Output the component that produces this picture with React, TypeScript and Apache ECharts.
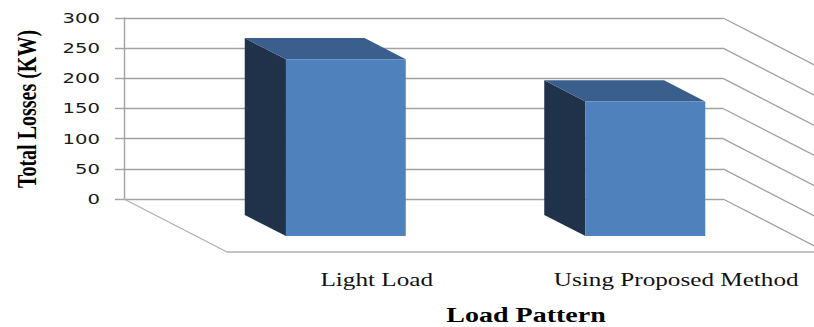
import React, { useEffect, useRef } from "react";
import * as echarts from "echarts";

const categories = ["Light Load", "Using Proposed Method"];
const totalLosses = [293, 223];
const yTicks = [0, 50, 100, 150, 200, 250, 300];
const yAxisTitle = "Total Losses (KW)";
const xAxisTitle = "Load Pattern";

// oblique floor depth in pixels, and where the columns stand inside it (0 = back wall, 1 = front edge)
const DEPTH_X = 103;
const DEPTH_Y = 53;
const COL_FAR = 0.3;
const COL_NEAR = 0.7;
const COL_WIDTH = 0.4;
// horizontal stretch applied to all the wording
const STRETCH = 1.4;

const FRONT = "#4f81bd";
const TOP = "#3b5f8c";
const SIDE = "#1f3249";
const GRID = "#a2a2a2";
const FLOOR = "#b0b0b0";
const SERIF = "'Liberation Serif', 'Times New Roman', serif";

export default function App() {
  const ref = useRef<HTMLDivElement>(null);

  useEffect(() => {
    if (!ref.current) return;
    const chart = echarts.init(ref.current, undefined, { renderer: "svg" });

    const option: any = {
      animation: false,
      backgroundColor: "#ffffff",
      grid: { left: 124, top: 18, width: 599, height: 181, containLabel: false },
      xAxis: {
        type: "category",
        data: categories,
        axisLine: { show: false },
        axisTick: { show: false },
        axisLabel: { show: false },
        splitLine: { show: false },
      },
      yAxis: {
        type: "value",
        min: 0,
        max: 300,
        interval: 50,
        axisLine: { show: true, lineStyle: { color: GRID, width: 1.4 } },
        axisTick: { show: true, length: 9, lineStyle: { color: GRID, width: 1.4 } },
        axisLabel: { show: false },
        splitLine: { show: true, lineStyle: { color: GRID, width: 1.4 } },
      },
      graphic: [
        {
          type: "text",
          x: 26,
          y: 109,
          rotation: Math.PI / 2,
          scaleY: STRETCH,
          style: {
            text: yAxisTitle,
            font: `bold 20px ${SERIF}`,
            fill: "#000000",
            align: "center",
            verticalAlign: "middle",
            textAlign: "center",
            textVerticalAlign: "middle",
          },
        },
        {
          type: "text",
          x: 526,
          y: 315.5,
          scaleX: STRETCH,
          style: {
            text: xAxisTitle,
            font: `bold 20px ${SERIF}`,
            fill: "#000000",
            align: "center",
            verticalAlign: "middle",
            textAlign: "center",
            textVerticalAlign: "middle",
          },
        },
      ],
      series: [
        {
          // side wall gridlines and the floor outline
          type: "custom",
          name: "walls",
          silent: true,
          z: 1,
          data: yTicks.map((v) => [0, v]),
          renderItem: (params: any, api: any) => {
            const cs = params.coordSys;
            const y = api.coord([0, api.value(1)])[1];
            const right = cs.x + cs.width;
            const children: any[] = [
              {
                type: "line",
                shape: { x1: right, y1: y, x2: right + DEPTH_X, y2: y + DEPTH_Y },
                style: { stroke: GRID, lineWidth: 1.3 },
              },
            ];
            if (api.value(1) === 0) {
              children.push(
                {
                  type: "line",
                  shape: { x1: cs.x, y1: y, x2: cs.x + DEPTH_X, y2: y + DEPTH_Y },
                  style: { stroke: FLOOR, lineWidth: 1.3 },
                },
                {
                  type: "line",
                  shape: { x1: cs.x + DEPTH_X, y1: y + DEPTH_Y, x2: right + DEPTH_X, y2: y + DEPTH_Y },
                  style: { stroke: FLOOR, lineWidth: 1.3 },
                }
              );
            }
            return { type: "group", children };
          },
        },
        {
          // value labels beside the back wall
          type: "custom",
          name: "ticks",
          silent: true,
          z: 3,
          data: yTicks.map((v) => [0, v]),
          renderItem: (params: any, api: any) => {
            const cs = params.coordSys;
            const y = api.coord([0, api.value(1)])[1];
            return {
              type: "text",
              x: cs.x - 24,
              y: y,
              scaleX: STRETCH,
              style: {
                text: String(yTicks[params.dataIndex]),
                font: "14px 'DejaVu Sans', Verdana, sans-serif",
                fill: "#1a1a1a",
                align: "right",
                verticalAlign: "middle",
                textAlign: "right",
                textVerticalAlign: "middle",
              },
            };
          },
        },
        {
          // category names along the front edge of the floor
          type: "custom",
          name: "categories",
          silent: true,
          z: 3,
          data: categories.map((_, i) => [i, 0]),
          renderItem: (params: any, api: any) => {
            const p = api.coord([api.value(0), 0]);
            return {
              type: "text",
              x: p[0] + DEPTH_X,
              y: p[1] + DEPTH_Y + 28,
              scaleX: STRETCH,
              style: {
                text: categories[params.dataIndex],
                font: `18px ${SERIF}`,
                fill: "#111111",
                align: "center",
                verticalAlign: "middle",
                textAlign: "center",
                textVerticalAlign: "middle",
              },
            };
          },
        },
        {
          // 3-D columns: left side, top and front faces
          type: "custom",
          name: "Total Losses",
          z: 2,
          data: totalLosses.map((v, i) => [i, v]),
          renderItem: (params: any, api: any) => {
            const i = api.value(0);
            const v = api.value(1);
            const base = api.coord([i, 0]);
            const top = api.coord([i, v]);
            const bw = api.size([1, 0])[0] * COL_WIDTH;
            const xl = base[0] - bw / 2;
            const xr = base[0] + bw / 2;
            const yb = base[1];
            const yt = top[1];
            const fx = COL_FAR * DEPTH_X;
            const fy = COL_FAR * DEPTH_Y;
            const nx = COL_NEAR * DEPTH_X;
            const ny = COL_NEAR * DEPTH_Y;
            return {
              type: "group",
              children: [
                {
                  type: "polygon",
                  shape: {
                    points: [
                      [xl + fx, yt + fy],
                      [xl + nx, yt + ny],
                      [xl + nx, yb + ny],
                      [xl + fx, yb + fy],
                    ],
                  },
                  style: { fill: SIDE },
                },
                {
                  type: "polygon",
                  shape: {
                    points: [
                      [xl + fx, yt + fy],
                      [xr + fx, yt + fy],
                      [xr + nx, yt + ny],
                      [xl + nx, yt + ny],
                    ],
                  },
                  style: { fill: TOP },
                },
                {
                  type: "rect",
                  shape: { x: xl + nx, y: yt + ny, width: bw, height: yb - yt },
                  style: { fill: FRONT },
                },
              ],
            };
          },
        },
      ],
    };

    chart.setOption(option);
    return () => chart.dispose();
  }, []);

  return (
    <div
      ref={ref}
      style={{ position: "fixed", left: 0, top: 0, width: 814, height: 327, background: "#fff" }}
    />
  );
}
